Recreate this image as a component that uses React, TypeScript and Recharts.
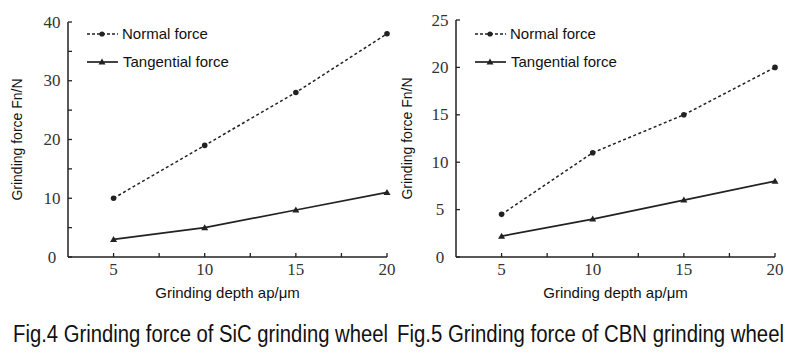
import { LineChart, Line, XAxis, YAxis, Legend } from 'recharts';

// grinding depth ap (µm)
const depths = [5, 10, 15, 20];

// Fig.4 SiC wheel
const sicNormal = [10, 19, 28, 38];
const sicTangential = [3, 5, 8, 11];
const sicYTicks = [0, 5, 10, 15, 20, 25, 30, 35, 40];

// Fig.5 CBN wheel
const cbnNormal = [4.5, 11, 15, 20];
const cbnTangential = [2.2, 4, 6, 8];
const cbnYTicks = [0, 5, 10, 15, 20, 25];

const xTicks = [5, 7.5, 10, 12.5, 15, 17.5, 20];

const captions = [
  'Fig.4 Grinding force of SiC grinding wheel',
  'Fig.5 Grinding force of CBN grinding wheel',
];

const INK = '#222';
const SANS = '"Liberation Sans", Arial, sans-serif';
const SERIF = '"Liberation Serif", "DejaVu Serif", serif';

function XTick(props: any) {
  const { x, y, payload } = props;
  const major = Number.isInteger(payload.value);
  return (
    <g>
      <line x1={x} x2={x} y1={y} y2={y - 4} stroke={INK} strokeWidth={1.3} />
      {major && (
        <text x={x} y={y + 18} textAnchor="middle" style={{ fontFamily: SERIF, fontSize: 17 }} fill="#333">
          {payload.value}
        </text>
      )}
    </g>
  );
}

function makeYTick(labelStep: number) {
  return function YTick(props: any) {
    const { x, y, payload } = props;
    const major = payload.value % labelStep === 0;
    return (
      <g>
        <line x1={x} x2={x + 4} y1={y} y2={y} stroke={INK} strokeWidth={1.3} />
        {major && (
          <text x={x - 16} y={y + 5.5} textAnchor="middle" style={{ fontFamily: SERIF, fontSize: 17 }} fill="#333">
            {payload.value}
          </text>
        )}
      </g>
    );
  };
}

function Triangle(props: any) {
  const { cx, cy } = props;
  if (cx == null || cy == null) return <g />;
  return <path d={`M${cx},${cy - 3.5} L${cx + 3.5},${cy + 2.5} L${cx - 3.5},${cy + 2.5} Z`} fill={INK} />;
}

function LegendBox() {
  return (
    <svg width={170} height={48} style={{ display: 'block' }}>
      <line x1={0} x2={31} y1={9} y2={9} stroke={INK} strokeWidth={1.5} strokeDasharray="3 2" />
      <circle cx={15} cy={9} r={2.6} fill={INK} />
      <text x={35} y={14} fontFamily={SANS} fontSize={15} fill="#111">Normal force</text>
      <line x1={0} x2={31} y1={37} y2={37} stroke={INK} strokeWidth={1.7} />
      <path d="M15,33.5 L18.5,39.5 L11.5,39.5 Z" fill={INK} />
      <text x={36} y={42} fontFamily={SANS} fontSize={15} fill="#111">Tangential force</text>
    </svg>
  );
}

interface PanelProps {
  normal: number[];
  tangential: number[];
  yTicks: number[];
  yMax: number;
  labelStep: number;
  yAxisWidth: number;
  top: number;
  right: number;
  legendLeft: number;
}

function Panel({ normal, tangential, yTicks, yMax, labelStep, yAxisWidth, top, right, legendLeft }: PanelProps) {
  const data = depths.map((d, i) => ({ depth: d, normal: normal[i], tangential: tangential[i] }));
  return (
    <LineChart width={400} height={310} data={data} margin={{ top, right, bottom: 0, left: 0 }}>
      <XAxis
        dataKey="depth"
        type="number"
        domain={[2.5, 20]}
        ticks={xTicks}
        interval={0}
        height={53}
        tickSize={0}
        tickMargin={0}
        tickLine={false}
        tick={<XTick />}
        axisLine={{ stroke: INK, strokeWidth: 1.5 }}
        label={{ value: 'Grinding depth ap/\u03bcm', position: 'insideBottom', offset: 12, fontFamily: SANS, fontSize: 15, fill: '#111' }}
      />
      <YAxis
        type="number"
        domain={[0, yMax]}
        ticks={yTicks}
        interval={0}
        width={yAxisWidth}
        tickSize={0}
        tickMargin={0}
        tickLine={false}
        tick={makeYTick(labelStep)}
        axisLine={{ stroke: INK, strokeWidth: 1.5 }}
        label={{ value: 'Grinding force Fn/N', angle: -90, position: 'insideLeft', offset: 17, fontFamily: SANS, fontSize: 14, fill: '#111', style: { textAnchor: 'middle' } }}
      />
      <Legend
        layout="vertical"
        align="center"
        verticalAlign="middle"
        wrapperStyle={{ top: 25, left: legendLeft, width: 170, height: 48 }}
        content={() => <LegendBox />}
      />
      <Line
        dataKey="normal"
        stroke={INK}
        strokeWidth={1.5}
        strokeDasharray="3 2.5"
        dot={{ r: 2.8, fill: INK, stroke: 'none' }}
        isAnimationActive={false}
      />
      <Line
        dataKey="tangential"
        stroke={INK}
        strokeWidth={1.7}
        dot={<Triangle />}
        isAnimationActive={false}
      />
    </LineChart>
  );
}

export default function App() {
  return (
    <div style={{ position: 'fixed', left: 0, top: 0, width: 800, height: 363, background: '#fff' }}>
      <div style={{ position: 'absolute', left: 0, top: 0 }}>
        <Panel
          normal={sicNormal}
          tangential={sicTangential}
          yTicks={sicYTicks}
          yMax={40}
          labelStep={10}
          yAxisWidth={68}
          top={22}
          right={13}
          legendLeft={87}
        />
      </div>
      <div style={{ position: 'absolute', left: 390, top: 0 }}>
        <Panel
          normal={cbnNormal}
          tangential={cbnTangential}
          yTicks={cbnYTicks}
          yMax={25}
          labelStep={5}
          yAxisWidth={66}
          top={20}
          right={15}
          legendLeft={85}
        />
      </div>
      <svg style={{ position: 'absolute', left: 0, top: 310 }} width={800} height={53}>
        <text transform="translate(13,32) scale(1,1.1)" textLength={375} lengthAdjust="spacingAndGlyphs" fontFamily={SANS} fontSize={21} fill="#111">
          {captions[0]}
        </text>
        <text transform="translate(397,32) scale(1,1.1)" textLength={387} lengthAdjust="spacingAndGlyphs" fontFamily={SANS} fontSize={21} fill="#111">
          {captions[1]}
        </text>
      </svg>
    </div>
  );
}
